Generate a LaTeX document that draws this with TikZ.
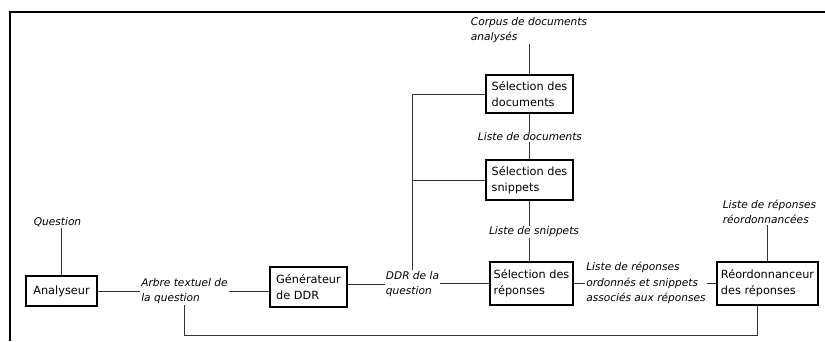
\documentclass[tikz,border=0pt]{standalone}
\usepackage{fontspec}
\setmainfont{DejaVu Sans}
\usepackage{tikz}
\usetikzlibrary{positioning}
\definecolor{wire}{HTML}{333333}

\begin{document}
\begin{tikzpicture}[x=1pt, y=-1pt,
    box/.style={rectangle, draw=black, line width=1.3pt, align=left, inner sep=2pt, font=\fontsize{11.3}{16}\selectfont},
    lbl/.style={align=left, inner sep=1pt, font=\fontsize{10.6}{15.5}\selectfont\itshape},
    wire/.style={draw=wire, line width=1pt}
]
    \useasboundingbox (0,0) rectangle (825,341);
    \draw[line width=2pt] (825,11.5) -- (10,11.5) -- (10,341);

    \node[box, minimum width=71pt, minimum height=30pt] (ana) at (61.5,291) {Analyseur};
    \node[box, minimum width=77pt, minimum height=40pt] (gen) at (308.5,287) {Générateur\\de DDR};
    \node[box, minimum width=87pt, minimum height=38pt] (doc) at (529.5,94) {Sélection des\\documents};
    \node[box, minimum width=87pt, minimum height=40pt] (snip) at (529.5,180) {Sélection des\\snippets};
    \node[box, minimum width=83pt, minimum height=43pt] (rep) at (531.5,283.5) {Sélection des\\réponses};
    \node[box, minimum width=101pt, minimum height=43pt] (reord) at (767.5,283.5) {Réordonnanceur\\des réponses};

    \node[lbl] (q) at (57.5,222) {Question};
    \node[lbl] (arbre) at (184.5,291) {Arbre textuel de\\la question};
    \node[lbl] (ddr) at (412.5,284) {DDR de la\\question};
    \node[lbl] (corpus) at (529,30) {Corpus de documents\\analysés};
    \node[lbl] (ldoc) at (530,137) {Liste de documents};
    \node[lbl] (lsnip) at (534,232) {Liste de snippets};
    \node[lbl] (lrep) at (646,283) {Liste de réponses\\ordonnés et snippets\\associés aux réponses};
    \node[lbl] (lreord) at (769.5,212) {Liste de réponses\\réordonnancées};

    \draw[wire] (ana.north) -- (ana.north |- q.south);
    \draw[wire] (ana.east) -- (arbre.west |- ana.east);
    \draw[wire] (arbre.east) -- (gen.west |- arbre.east);
    \draw[wire] (gen.east |- ddr.west) -- (ddr.west);
    \draw[wire] (ddr.east |- rep.west) -- (rep.west);
    \draw[wire] (ddr.north) |- (doc.west);
    \draw[wire] (ddr.north |- snip.west) -- (snip.west);
    \draw[wire] (corpus.south -| doc.north) -- (doc.north);
    \draw[wire] (doc.south) -- (doc.south |- ldoc.north);
    \draw[wire] (snip.north |- ldoc.south) -- (snip.north);
    \draw[wire] (snip.south) -- (snip.south |- lsnip.north);
    \draw[wire] (snip.south |- lsnip.south) -- (snip.south |- rep.north);
    \draw[wire] (rep.east) -- (lrep.west |- rep.east);
    \draw[wire] (lrep.east |- reord.west) -- (reord.west);
    \draw[wire] (reord.north) -- (reord.north |- lreord.south);
    \draw[wire] ([xshift=-10pt]reord.south) |- ++(0,30) -| (arbre.south);
\end{tikzpicture}
\end{document}
